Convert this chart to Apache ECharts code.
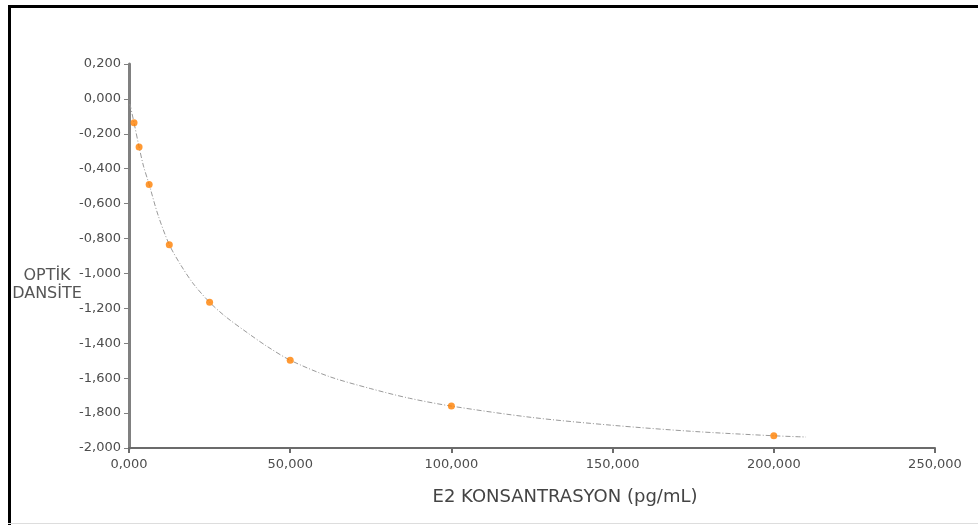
<!DOCTYPE html>
<html>
<head>
<meta charset="utf-8">
<script src="https://cdn.jsdelivr.net/npm/echarts@6/dist/echarts.min.js"></script>
<style>
  html,body{margin:0;padding:0;background:#fff;}
  #chart{width:978px;height:525px;}
</style>
</head>
<body>
<div id="chart"></div>
<script>
// standart konsantrasyonlari ve okunan optik dansite degerleri
const concentrations=[1.5625,3.125,6.25,12.5,25,50,100,200];
const densities=[-0.137,-0.275,-0.490,-0.835,-1.165,-1.497,-1.760,-1.930];

// egri (trend) cizgisi, resimden okunan noktalar
const curveX=[0.3,1.5625,3.125,4.5,6.25,9,12.5,16,20,25,30,37.5,43,50,62,75,87,100,125,150,175,200,210];
const curveY=[-0.03,-0.137,-0.275,-0.385,-0.490,-0.665,-0.835,-0.950,-1.060,-1.165,-1.248,-1.350,-1.420,-1.497,-1.590,-1.660,-1.715,-1.760,-1.825,-1.870,-1.905,-1.930,-1.937];

const fmt=v=>v.toFixed(3).replace('.',',');
const FONT='"DejaVu Sans", sans-serif';

const chart=echarts.init(document.getElementById('chart'));

const option={
    backgroundColor:'#ffffff',
    animation:false,
    grid:{left:129,right:43,top:64,bottom:77},
    xAxis:{
        type:'value',
        min:0,max:250,interval:50,
        axisLine:{show:true,onZero:false,lineStyle:{color:'#6b6b6b',width:2}},
        axisTick:{show:true,length:5,lineStyle:{color:'#6b6b6b',width:2}},
        axisLabel:{formatter:fmt,color:'#4d4d4d',fontSize:13,margin:10,fontFamily:FONT},
        splitLine:{show:false}
    },
    yAxis:{
        type:'value',
        min:-2,max:0.2,interval:0.2,
        axisLine:{show:true,onZero:false,lineStyle:{color:'#808080',width:3}},
        axisTick:{show:true,length:5,lineStyle:{color:'#808080',width:1}},
        axisLabel:{formatter:fmt,color:'#4d4d4d',fontSize:13,margin:8,fontFamily:FONT},
        splitLine:{show:false}
    },
    graphic:[
        {type:'rect',shape:{x:8,y:5,width:970,height:3},style:{fill:'#000'},silent:true},
        {type:'rect',shape:{x:8,y:5,width:3,height:520},style:{fill:'#000'},silent:true},
        {type:'rect',shape:{x:8,y:523,width:970,height:1},style:{fill:'#dddddd'},silent:true},
        {type:'text',x:47,y:268,style:{text:'OPTİK',fill:'#555',fontSize:16,fontFamily:FONT,align:'center'}},
        {type:'text',x:47,y:286,style:{text:'DANSİTE',fill:'#555',fontSize:16,fontFamily:FONT,align:'center'}},
        {type:'text',x:565,y:488,style:{text:'E2 KONSANTRASYON (pg/mL)',fill:'#444',fontSize:18,fontFamily:FONT,align:'center'}}
    ],
    series:[
        {
            type:'line',
            data:curveX.map((x,i)=>[x,curveY[i]]),
            smooth:0.3,
            showSymbol:false,
            lineStyle:{color:'#9a9a9a',width:1,type:[5,2,1,2]},
            z:1
        },
        {
            type:'scatter',
            data:concentrations.map((x,i)=>[x,densities[i]]),
            symbol:'circle',
            symbolSize:7,
            itemStyle:{color:'#ff8000'},
            z:3
        }
    ]
};

chart.setOption(option);
</script>
</body>
</html>
